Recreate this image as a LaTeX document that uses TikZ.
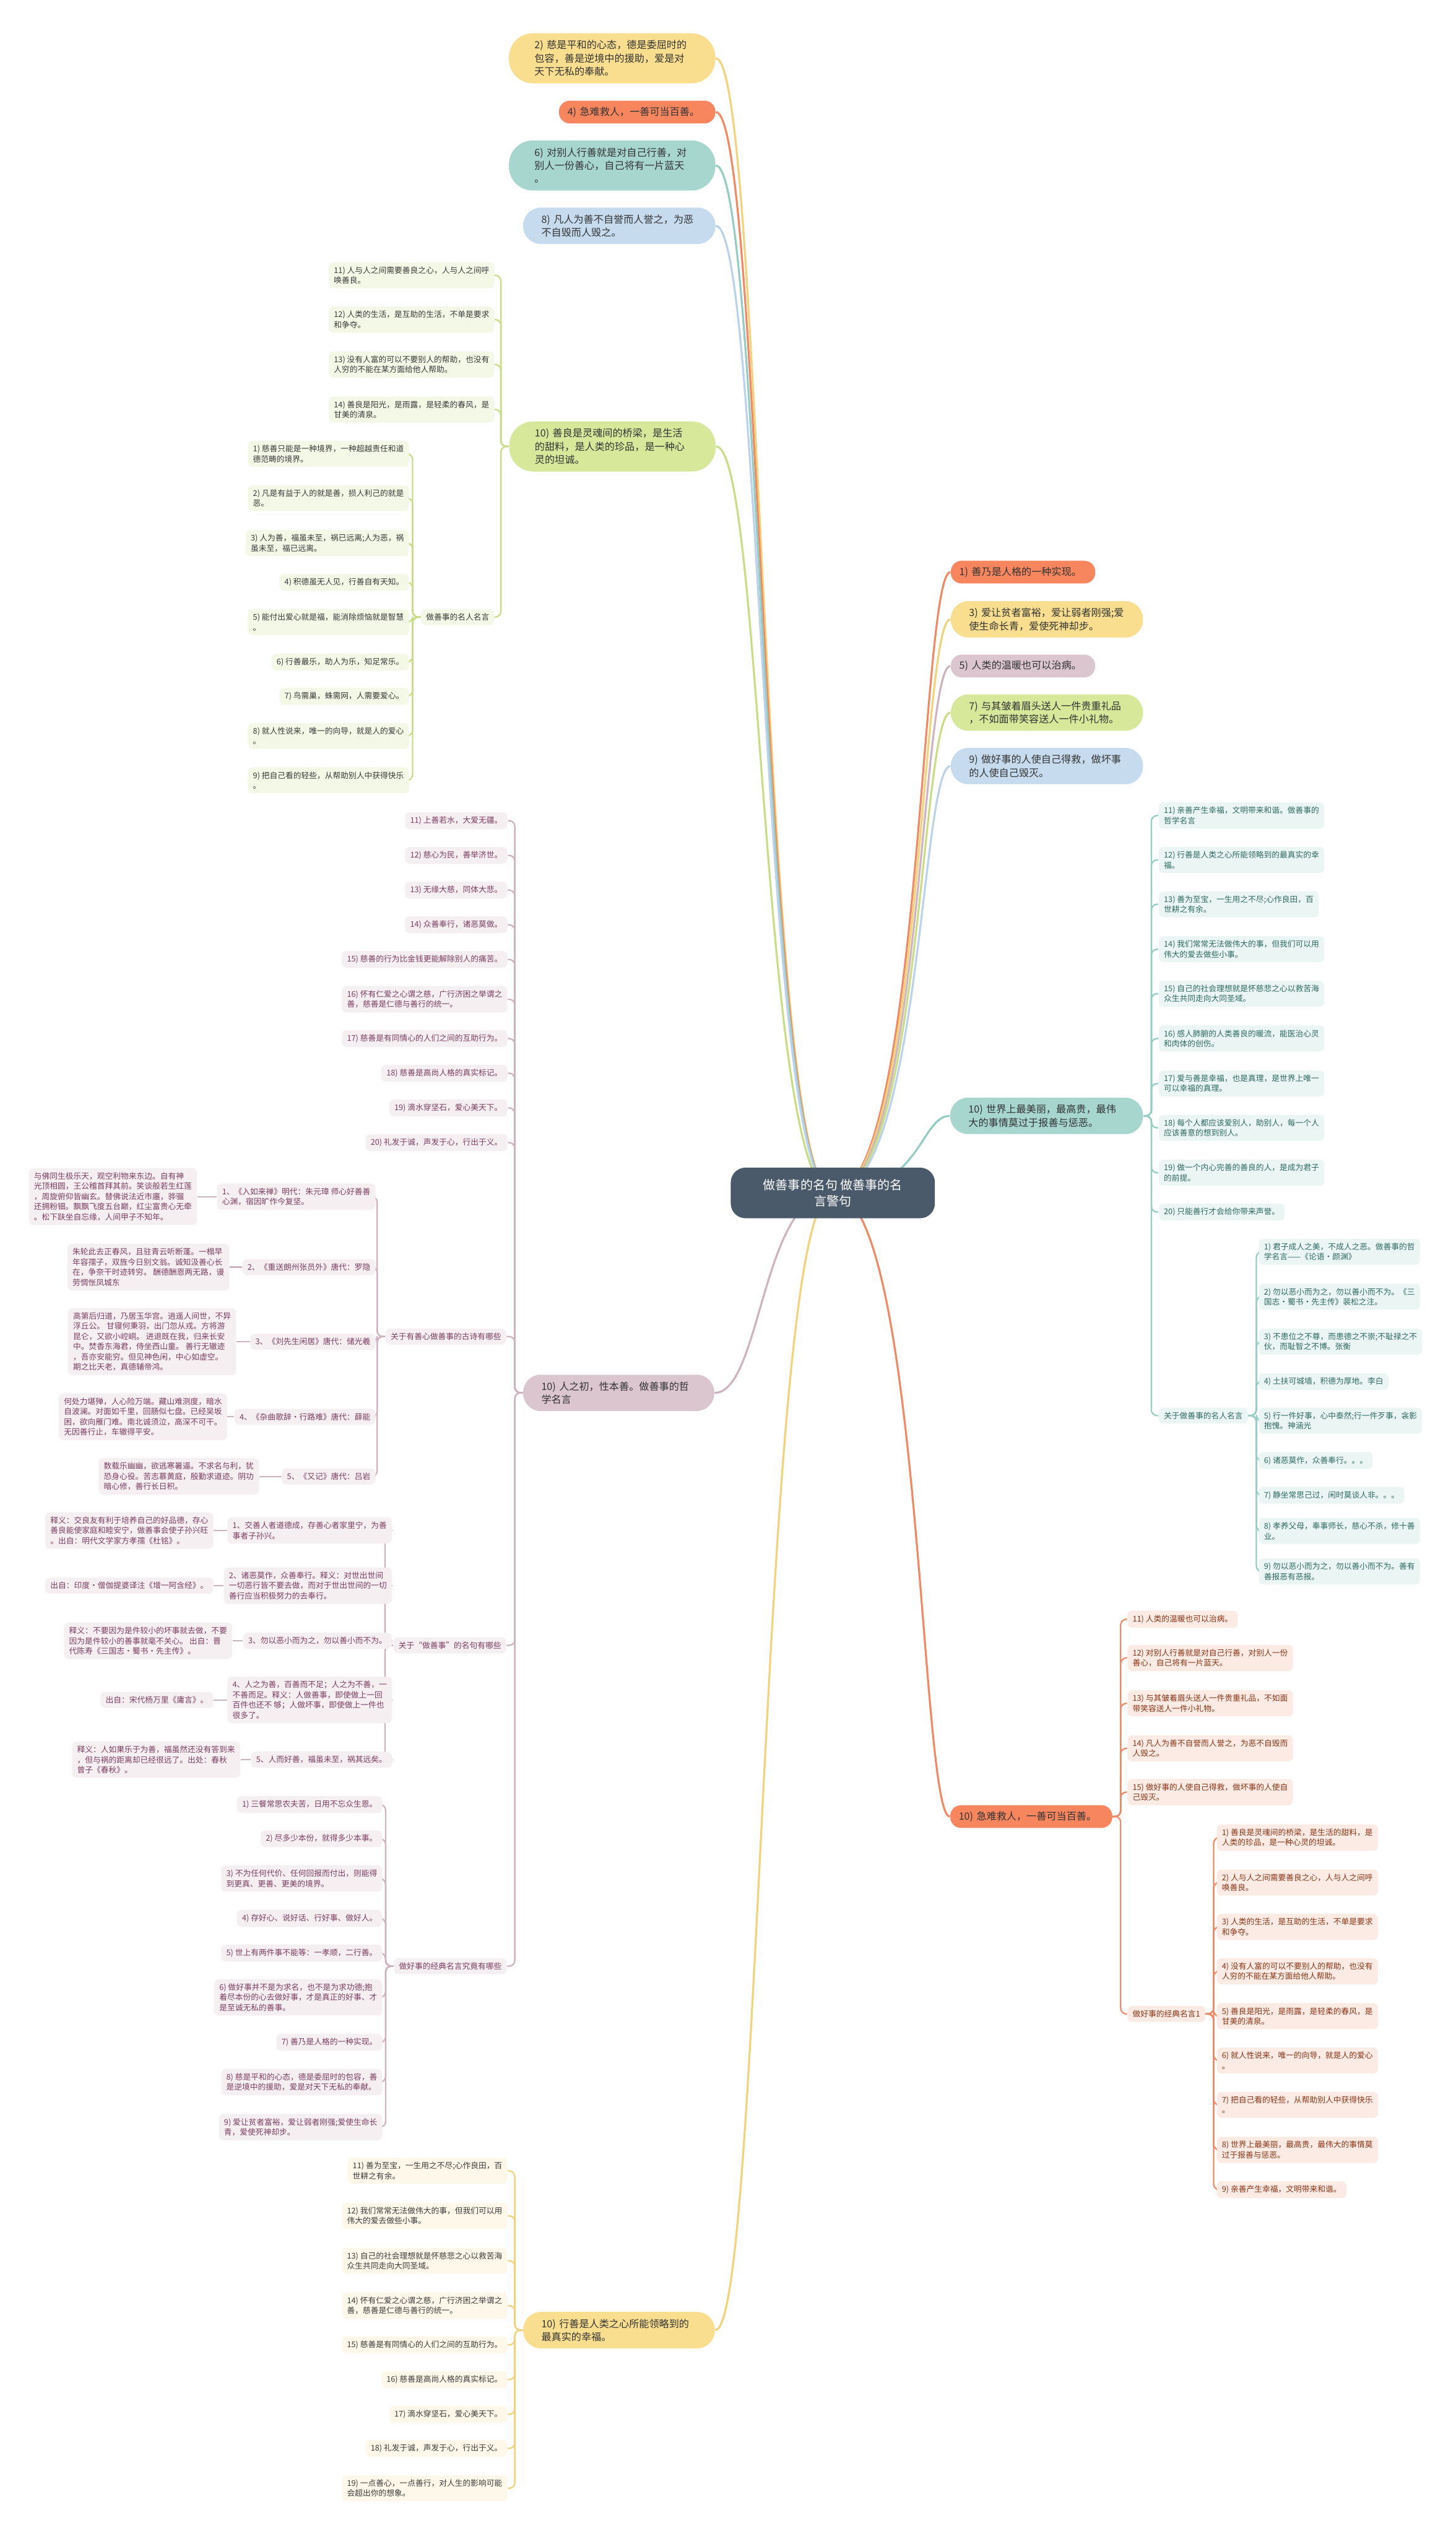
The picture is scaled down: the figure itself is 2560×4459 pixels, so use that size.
\documentclass[tikz,border=0pt]{standalone}
\usepackage{fontspec}
\setmainfont{Noto Sans CJK SC}
\usetikzlibrary{calc, backgrounds}

\definecolor{yel}{HTML}{F8DE8E}
\definecolor{yelline}{HTML}{F2D27C}
\definecolor{yelleaf}{HTML}{FDF8E9}
\definecolor{yeltext}{HTML}{3C3C3C}
\definecolor{cor}{HTML}{F7865F}
\definecolor{corline}{HTML}{EF8A66}
\definecolor{corleaf}{HTML}{FCEBE4}
\definecolor{cortext}{HTML}{8A3416}
\definecolor{tea}{HTML}{A6D6CE}
\definecolor{tealine}{HTML}{95CCC3}
\definecolor{tealeaf}{HTML}{EBF5F3}
\definecolor{teatext}{HTML}{2E6A62}
\definecolor{blu}{HTML}{C7DBEE}
\definecolor{bluline}{HTML}{BBD3EA}
\definecolor{grn}{HTML}{D7E89A}
\definecolor{grnline}{HTML}{C9DC86}
\definecolor{grnleaf}{HTML}{F4F8E6}
\definecolor{grntext}{HTML}{3A3A3A}
\definecolor{mau}{HTML}{DBC5CF}
\definecolor{mauline}{HTML}{CDB4C0}
\definecolor{mauleaf}{HTML}{F6EFF2}
\definecolor{mautext}{HTML}{7A3E60}
\definecolor{rootc}{HTML}{4A5A6A}
\definecolor{txtdark}{HTML}{333333}

\newcommand\mainsize{\fontsize{5}{6.6}\selectfont}
\newcommand\leafsize{\fontsize{3.95}{5.1}\selectfont}
\newcommand\rootsize{\fontsize{6.2}{8.2}\selectfont}

\tikzset{
  mainbox/.style={align=left, font=\mainsize, text=txtdark, inner ysep=0pt},
  mthree/.style={mainbox, text width=27.3mm, inner xsep=4.5mm, minimum height=8.8mm, rounded corners=4.2mm},
  mtwo/.style={mainbox, text width=27.4mm, inner xsep=3.2mm, minimum height=6.4mm, rounded corners=3.1mm},
  mone/.style={mainbox, inner xsep=1.5mm, minimum height=4mm, rounded corners=1.9mm},
  leaf/.style={align=left, font=\leafsize, inner xsep=0.9mm, inner ysep=0.75mm, rounded corners=0.8mm},
  gleaf/.style={leaf, anchor=east, fill=grnleaf, text=grntext},
  mleaf/.style={leaf, anchor=east, fill=mauleaf, text=mautext},
  yleaf/.style={leaf, anchor=east, fill=yelleaf, text=yeltext},
  tleaf/.style={leaf, anchor=west, fill=tealeaf, text=teatext},
  cleaf/.style={leaf, anchor=west, fill=corleaf, text=cortext},
  hookl/.style={rounded corners=1mm, to path={-- ++(-14,0) |- (\tikztotarget)}},
  hookr/.style={rounded corners=1mm, to path={-- ++(14,0) |- (\tikztotarget)}},
  twig/.style={line width=0.25mm},
  limb/.style={line width=0.35mm},
  lcurve/.style={out=180, in=0, out distance=12.5mm, in distance=8.2mm},
  rcurve/.style={out=0, in=180, out distance=15.5mm, in distance=5.2mm},
}

\begin{document}
\begin{tikzpicture}[x=0.1mm, y=-0.1mm]
    \useasboundingbox (0,0) rectangle (2560,4459);

    % centre
    \node[fill=rootc, text=white, font=\rootsize, align=center, minimum width=35.9mm, minimum height=8.9mm, rounded corners=2.6mm] (root) at (1464.5,2097.5) {做善事的名句 做善事的名\\言警句};

    % left main branches
    \node[mthree, fill=yel] (l2) at (1076.5,102.5) {2) 慈是平和的心态，德是委屈时的\\包容，善是逆境中的援助，爱是对\\天下无私的奉献。};
    \node[mone, fill=cor, text width=24.5mm] (l4) at (1120.5,197) {4)~急难救人，一善可当百善。};
    \node[mthree, fill=tea] (l6) at (1076.5,291) {6) 对别人行善就是对自己行善，对\\别人一份善心，自己将有一片蓝天\\。};
    \node[mtwo, fill=blu] (l8) at (1089,397) {8) 凡人为善不自誉而人誉之，为恶\\不自毁而人毁之。};
    \node[mthree, fill=grn] (lg) at (1077,785) {10) 善良是灵魂间的桥梁，是生活\\的甜料，是人类的珍品，是一种心\\灵的坦诚。};
    \node[mtwo, fill=mau, text width=27.2mm] (lm) at (1088,2449) {10) 人之初，性本善。做善事的哲\\学名言};
    \node[mtwo, fill=yel, text width=27.3mm] (ly) at (1088.5,4097) {10) 行善是人类之心所能领略到的\\最真实的幸福。};

    % right main branches
    \node[mone, fill=cor, text width=22.4mm] (r1) at (1799,1006) {1)~善乃是人格的一种实现。};
    \node[mtwo, fill=yel] (r3) at (1841,1089) {3) 爱让贫者富裕，爱让弱者刚强;爱\\使生命长青，爱使死神却步。};
    \node[mone, fill=mau, text width=22.4mm] (r5) at (1799,1171) {5)~人类的温暖也可以治病。};
    \node[mtwo, fill=grn] (r7) at (1841,1253) {7) 与其皱着眉头送人一件贵重礼品\\，不如面带笑容送人一件小礼物。};
    \node[mtwo, fill=blu] (r9) at (1841,1347) {9) 做好事的人使自己得救，做坏事\\的人使自己毁灭。};
    \node[mtwo, fill=tea, text width=27.5mm] (rt) at (1840.5,1962) {10) 世界上最美丽，最高贵，最伟\\大的事情莫过于报善与惩恶。};
    \node[mone, fill=cor, text width=25.5mm] (rc) at (1813.5,3194) {10)~急难救人，一善可当百善。};

    % green branch
    \node[gleaf] (lg11) at (870,484) {11) 人与人之间需要善良之心，人与人之间呼\\唤善良。};
    \node[gleaf] (lg12) at (870,562) {12) 人类的生活，是互助的生活，不单是要求\\和争夺。};
    \node[gleaf] (lg13) at (870,641) {13) 没有人富的可以不要别人的帮助，也没有\\人穷的不能在某方面给他人帮助。};
    \node[gleaf] (lg14) at (870,720) {14) 善良是阳光，是雨露，是轻柔的春风，是\\甘美的清泉。};
    \node[gleaf] (lgq) at (870,1085) {做善事的名人名言};
    \node[gleaf] (lgq1) at (720,798) {1) 慈善只能是一种境界，一种超越责任和道\\德范畴的境界。};
    \node[gleaf] (lgq2) at (720,876) {2) 凡是有益于人的就是善，损人利己的就是\\恶。};
    \node[gleaf] (lgq3) at (720,955) {3) 人为善，福虽未至，祸已远离;人为恶，祸\\虽未至，福已远离。};
    \node[gleaf] (lgq4) at (720,1024) {4) 积德虽无人见，行善自有天知。};
    \node[gleaf] (lgq5) at (720,1094) {5) 能付出爱心就是福，能消除烦恼就是智慧\\。};
    \node[gleaf] (lgq6) at (720,1164) {6) 行善最乐，助人为乐，知足常乐。};
    \node[gleaf] (lgq7) at (720,1224) {7) 鸟需巢，蛛需网，人需要爱心。};
    \node[gleaf] (lgq8) at (720,1294) {8) 就人性说来，唯一的向导，就是人的爱心\\。};
    \node[gleaf] (lgq9) at (720,1372) {9) 把自己看的轻些，从帮助别人中获得快乐\\。};

    % mauve branch
    \node[mleaf] (lm11) at (893,1443) {11) 上善若水，大爱无疆。};
    \node[mleaf] (lm12) at (893,1504) {12) 慈心为民，善举济世。};
    \node[mleaf] (lm13) at (893,1565) {13) 无缘大慈，同体大悲。};
    \node[mleaf] (lm14) at (893,1626) {14) 众善奉行，诸恶莫做。};
    \node[mleaf] (lm15) at (893,1687) {15) 慈善的行为比金钱更能解除别人的痛苦。};
    \node[mleaf] (lm16) at (893,1757) {16) 怀有仁爱之心谓之慈，广行济困之举谓之\\善，慈善是仁德与善行的统一。};
    \node[mleaf] (lm17) at (893,1826) {17) 慈善是有同情心的人们之间的互助行为。};
    \node[mleaf] (lm18) at (893,1887) {18) 慈善是高尚人格的真实标记。};
    \node[mleaf] (lm19) at (893,1948) {19) 滴水穿坚石，爱心美天下。};
    \node[mleaf] (lm20) at (893,2009) {20) 礼发于诚，声发于心，行出于义。};

    \node[mleaf] (lmp) at (891,2350) {关于有善心做善事的古诗有哪些};
    \node[mleaf] (lmp1) at (661,2104) {1、《入如来禅》明代：朱元璋 师心好善善\\心渊，宿因旷作今复坚。};
    \node[mleaf] (lmt1) at (347,2104) {与佛同生极乐天，观空利物来东边。自有神\\光顶相圆，王公稽首拜其前。笑谈般若生红莲\\，周旋俯仰皆幽玄。替佛说法近市廛，骅骝\\还拥粉钿。飘飘飞度五台巅，红尘富贵心无牵\\。松下趺坐自忘缘，人间甲子不知年。};
    \node[mleaf] (lmp2) at (661,2228) {2、《重送朗州张员外》唐代：罗隐};
    \node[mleaf] (lmt2) at (404,2228) {朱轮此去正春风，且驻青云听断蓬。一榻早\\年容孺子，双旌今日别文翁。诚知汲善心长\\在，争奈干时迹转穷。 酬德酬恩两无路，谩\\劳惆怅凤城东};
    \node[mleaf] (lmp3) at (661,2359) {3、《刘先生闲居》唐代：储光羲};
    \node[mleaf] (lmt3) at (416,2359) {高第后归道，乃居玉华宫。逍遥人间世，不异\\浮丘公。 甘寝何秉羽，出门忽从戎。方将游\\昆仑，又欲小崆峒。 进退既在我，归来长安\\中。焚香东海君，侍坐西山童。 善行无辙迹\\，吾亦安能穷。但见神色闲，中心如虚空。\\期之比天老，真德辅帝鸿。};
    \node[mleaf] (lmp4) at (661,2491) {4、《杂曲歌辞·行路难》唐代：薛能};
    \node[mleaf] (lmt4) at (400,2491) {何处力堪殚，人心险万端。藏山难测度，暗水\\自波澜。对面如千里，回肠似七盘。已经吴坂\\困，欲向雁门难。南北诚须泣，高深不可干。\\无因善行止，车辙得平安。};
    \node[mleaf] (lmp5) at (661,2596) {5、《又记》唐代：吕岩};
    \node[mleaf] (lmt5) at (456,2596) {数载乐幽幽，欲逃寒暑逼。不求名与利，犹\\恐身心役。苦志慕黄庭，殷勤求道迹。阴功\\暗心修，善行长日积。};

    \node[mleaf] (lms) at (891,2893) {关于“做善事”的名句有哪些};
    \node[mleaf] (lms1) at (690,2691) {1、交善人者道德成，存善心者家里宁，为善\\事者子孙兴。};
    \node[mleaf] (lmx1) at (376,2691) {释义：交良友有利于培养自己的好品德，存心\\善良能使家庭和睦安宁，做善事会使子孙兴旺\\。出自：明代文学家方孝孺《杜铭》。};
    \node[mleaf] (lms2) at (690,2788) {2、诸恶莫作，众善奉行。释义：对世出世间\\一切恶行皆不要去做，而对于世出世间的一切\\善行应当积极努力的去奉行。};
    \node[mleaf] (lmx2) at (376,2788) {出自：印度·僧伽提婆译注《增一阿含经》。};
    \node[mleaf] (lms3) at (690,2885) {3、勿以恶小而为之，勿以善小而不为。};
    \node[mleaf] (lmx3) at (409,2885) {释义：不要因为是件较小的坏事就去做，不要\\因为是件较小的善事就毫不关心。 出自：晋\\代陈寿《三国志·蜀书·先主传》。};
    \node[mleaf] (lms4) at (690,2989) {4、人之为善，百善而不足；人之为不善，一\\不善而足。释义：人做善事，即使做上一回\\百件也还不 够；人做坏事，即使做上一件也\\很多了。};
    \node[mleaf] (lmx4) at (376,2989) {出自：宋代杨万里《庸言》。};
    \node[mleaf] (lms5) at (690,3094) {5、人而好善，福虽未至，祸其远矣。};
    \node[mleaf] (lmx5) at (423,3094) {释义：人如果乐于为善，福虽然还没有答到来\\，但与祸的距离却已经很远了。出处：春秋\\曾子《春秋》。};

    \node[mleaf] (lmk) at (892,3457) {做好事的经典名言究竟有哪些};
    \node[mleaf] (lmk1) at (673,3173) {1) 三餐常思农夫苦，日用不忘众生恩。};
    \node[mleaf] (lmk2) at (673,3233) {2) 尽多少本份，就得多少本事。};
    \node[mleaf] (lmk3) at (673,3303) {3) 不为任何代价、任何回报而付出，则能得\\到更真、更善、更美的境界。};
    \node[mleaf] (lmk4) at (673,3373) {4) 存好心、说好话、行好事、做好人。};
    \node[mleaf] (lmk5) at (673,3434) {5) 世上有两件事不能等：一孝顺，二行善。};
    \node[mleaf] (lmk6) at (673,3512) {6) 做好事并不是为求名，也不是为求功德;抱\\着尽本份的心去做好事，才是真正的好事、才\\是至诚无私的善事。};
    \node[mleaf] (lmk7) at (673,3591) {7) 善乃是人格的一种实现。};
    \node[mleaf] (lmk8) at (673,3661) {8) 慈是平和的心态，德是委屈时的包容，善\\是逆境中的援助，爱是对天下无私的奉献。};
    \node[mleaf] (lmk9) at (673,3740) {9) 爱让贫者富裕，爱让弱者刚强;爱使生命长\\青，爱使死神却步。};

    % yellow branch
    \node[yleaf] (ly11) at (893,3817) {11) 善为至宝，一生用之不尽;心作良田，百\\世耕之有余。};
    \node[yleaf] (ly12) at (893,3896) {12) 我们常常无法做伟大的事，但我们可以用\\伟大的爱去做些小事。};
    \node[yleaf] (ly13) at (893,3975) {13) 自己的社会理想就是怀慈悲之心以救苦海\\众生共同走向大同圣域。};
    \node[yleaf] (ly14) at (893,4054) {14) 怀有仁爱之心谓之慈，广行济困之举谓之\\善，慈善是仁德与善行的统一。};
    \node[yleaf] (ly15) at (893,4123) {15) 慈善是有同情心的人们之间的互助行为。};
    \node[yleaf] (ly16) at (893,4184) {16) 慈善是高尚人格的真实标记。};
    \node[yleaf] (ly17) at (893,4245) {17) 滴水穿坚石，爱心美天下。};
    \node[yleaf] (ly18) at (893,4305) {18) 礼发于诚，声发于心，行出于义。};
    \node[yleaf] (ly19) at (893,4375) {19) 一点善心，一点善行，对人生的影响可能\\会超出你的想象。};

    % teal branch
    \node[tleaf] (rt11) at (2037,1434) {11) 亲善产生幸福，文明带来和谐。做善事的\\哲学名言};
    \node[tleaf] (rt12) at (2037,1512) {12) 行善是人类之心所能领略到的最真实的幸\\福。};
    \node[tleaf] (rt13) at (2037,1590) {13) 善为至宝，一生用之不尽;心作良田，百\\世耕之有余。};
    \node[tleaf] (rt14) at (2037,1669) {14) 我们常常无法做伟大的事，但我们可以用\\伟大的爱去做些小事。};
    \node[tleaf] (rt15) at (2037,1747) {15) 自己的社会理想就是怀慈悲之心以救苦海\\众生共同走向大同圣域。};
    \node[tleaf] (rt16) at (2037,1826) {16) 感人肺腑的人类善良的暖流，能医治心灵\\和肉体的创伤。};
    \node[tleaf] (rt17) at (2037,1905) {17) 爱与善是幸福，也是真理，是世界上唯一\\可以幸福的真理。};
    \node[tleaf] (rt18) at (2037,1983) {18) 每个人都应该爱别人，助别人，每一个人\\应该善意的想到别人。};
    \node[tleaf] (rt19) at (2037,2062) {19) 做一个内心完善的善良的人，是成为君子\\的前提。};
    \node[tleaf] (rt20) at (2037,2131) {20) 只能善行才会给你带来声誉。};
    \node[tleaf] (rtq) at (2037,2489) {关于做善事的名人名言};
    \node[tleaf] (rtq1) at (2213,2201) {1) 君子成人之美，不成人之恶。做善事的哲\\学名言——《论语·颜渊》};
    \node[tleaf] (rtq2) at (2213,2280) {2) 勿以恶小而为之，勿以善小而不为。《三\\国志·蜀书·先主传》裴松之注。};
    \node[tleaf] (rtq3) at (2213,2359) {3) 不患位之不尊，而患德之不崇;不耻禄之不\\伙，而耻智之不博。张衡};
    \node[tleaf] (rtq4) at (2213,2429) {4) 土扶可城墙，积德为厚地。李白};
    \node[tleaf] (rtq5) at (2213,2498) {5) 行一件好事，心中泰然;行一件歹事，衾影\\抱愧。神涵光};
    \node[tleaf] (rtq6) at (2213,2568) {6) 诸恶莫作，众善奉行。。。};
    \node[tleaf] (rtq7) at (2213,2629) {7) 静坐常思己过，闲时莫谈人非。。。};
    \node[tleaf] (rtq8) at (2213,2692) {8) 孝养父母，奉事师长，慈心不杀，修十善\\业。};
    \node[tleaf] (rtq9) at (2213,2763) {9) 勿以恶小而为之，勿以善小而不为。善有\\善报恶有恶报。};

    % coral branch
    \node[cleaf] (rc11) at (1982,2847) {11) 人类的温暖也可以治病。};
    \node[cleaf] (rc12) at (1982,2915) {12) 对别人行善就是对自己行善，对别人一份\\善心，自己将有一片蓝天。};
    \node[cleaf] (rc13) at (1982,2995) {13) 与其皱着眉头送人一件贵重礼品，不如面\\带笑容送人一件小礼物。};
    \node[cleaf] (rc14) at (1982,3074) {14) 凡人为善不自誉而人誉之，为恶不自毁而\\人毁之。};
    \node[cleaf] (rc15) at (1982,3151) {15) 做好事的人使自己得救，做坏事的人使自\\己毁灭。};
    \node[cleaf] (rck) at (1982,3541) {做好事的经典名言1};
    \node[cleaf] (rck1) at (2139,3231) {1) 善良是灵魂间的桥梁，是生活的甜料，是\\人类的珍品，是一种心灵的坦诚。};
    \node[cleaf] (rck2) at (2139,3310) {2) 人与人之间需要善良之心，人与人之间呼\\唤善良。};
    \node[cleaf] (rck3) at (2139,3388) {3) 人类的生活，是互助的生活，不单是要求\\和争夺。};
    \node[cleaf] (rck4) at (2139,3466) {4) 没有人富的可以不要别人的帮助，也没有\\人穷的不能在某方面给他人帮助。};
    \node[cleaf] (rck5) at (2139,3545) {5) 善良是阳光，是雨露，是轻柔的春风，是\\甘美的清泉。};
    \node[cleaf] (rck6) at (2139,3623) {6) 就人性说来，唯一的向导，就是人的爱心\\。};
    \node[cleaf] (rck7) at (2139,3701) {7) 把自己看的轻些，从帮助别人中获得快乐\\。};
    \node[cleaf] (rck8) at (2139,3780) {8) 世界上最美丽，最高贵，最伟大的事情莫\\过于报善与惩恶。};
    \node[cleaf] (rck9) at (2139,3850) {9) 亲善产生幸福，文明带来和谐。};

    \begin{scope}[on background layer]
    \fill[white] (0,0) rectangle (2560,4459);

    % centre to main branches
    \draw[limb]
        (root.center) edge[lcurve, yelline] (l2.east)
        (root.center) edge[lcurve, corline] (l4.east)
        (root.center) edge[lcurve, tealine] (l6.east)
        (root.center) edge[lcurve, bluline] (l8.east)
        (root.center) edge[lcurve, grnline] (lg.east)
        (root.center) edge[lcurve, mauline] (lm.east)
        (root.center) edge[lcurve, yelline] (ly.east)
        (root.center) edge[rcurve, corline] (r1.west)
        (root.center) edge[rcurve, yelline] (r3.west)
        (root.center) edge[rcurve, mauline] (r5.west)
        (root.center) edge[rcurve, grnline] (r7.west)
        (root.center) edge[rcurve, bluline] (r9.west)
        (root.center) edge[rcurve, tealine] (rt.west)
        (root.center) edge[rcurve, corline] (rc.west)
        ;

    \draw[twig, grnline]
        (lg.west) edge[hookl] (lg11.east) edge[hookl] (lg12.east)
                  edge[hookl] (lg13.east) edge[hookl] (lg14.east)
                  edge[hookl] (lgq.east)
        (lgq.west) edge[hookl] (lgq1.east) edge[hookl] (lgq2.east)
                   edge[hookl] (lgq3.east) edge[hookl] (lgq4.east)
                   edge[hookl] (lgq5.east) edge[hookl] (lgq6.east)
                   edge[hookl] (lgq7.east) edge[hookl] (lgq8.east)
                   edge[hookl] (lgq9.east)
        ;

    \draw[twig, mauline]
        (lm.west) edge[hookl] (lm11.east) edge[hookl] (lm12.east)
                  edge[hookl] (lm13.east) edge[hookl] (lm14.east)
                  edge[hookl] (lm15.east) edge[hookl] (lm16.east)
                  edge[hookl] (lm17.east) edge[hookl] (lm18.east)
                  edge[hookl] (lm19.east) edge[hookl] (lm20.east)
                  edge[hookl] (lmp.east) edge[hookl] (lms.east)
                  edge[hookl] (lmk.east)
        (lmp.west) edge[hookl] (lmp1.east) edge[hookl] (lmp2.east)
                   edge[hookl] (lmp3.east) edge[hookl] (lmp4.east)
                   edge[hookl] (lmp5.east)
        (lms.west) edge[hookl] (lms1.east) edge[hookl] (lms2.east)
                   edge[hookl] (lms3.east) edge[hookl] (lms4.east)
                   edge[hookl] (lms5.east)
        (lmk.west) edge[hookl] (lmk1.east) edge[hookl] (lmk2.east)
                   edge[hookl] (lmk3.east) edge[hookl] (lmk4.east)
                   edge[hookl] (lmk5.east) edge[hookl] (lmk6.east)
                   edge[hookl] (lmk7.east) edge[hookl] (lmk8.east)
                   edge[hookl] (lmk9.east)
        (lmp1.west) -- (lmt1.east)  (lmp2.west) -- (lmt2.east)
        (lmp3.west) -- (lmt3.east)  (lmp4.west) -- (lmt4.east)
        (lmp5.west) -- (lmt5.east)
        (lms1.west) -- (lmx1.east)  (lms2.west) -- (lmx2.east)
        (lms3.west) -- (lmx3.east)  (lms4.west) -- (lmx4.east)
        (lms5.west) -- (lmx5.east)
        ;

    \draw[twig, yelline]
        (ly.west) edge[hookl] (ly11.east) edge[hookl] (ly12.east)
                  edge[hookl] (ly13.east) edge[hookl] (ly14.east)
                  edge[hookl] (ly15.east) edge[hookl] (ly16.east)
                  edge[hookl] (ly17.east) edge[hookl] (ly18.east)
                  edge[hookl] (ly19.east)
        ;

    \draw[twig, tealine]
        (rt.east) edge[hookr] (rt11.west) edge[hookr] (rt12.west)
                  edge[hookr] (rt13.west) edge[hookr] (rt14.west)
                  edge[hookr] (rt15.west) edge[hookr] (rt16.west)
                  edge[hookr] (rt17.west) edge[hookr] (rt18.west)
                  edge[hookr] (rt19.west) edge[hookr] (rt20.west)
                  edge[hookr] (rtq.west)
        (rtq.east) edge[hookr] (rtq1.west) edge[hookr] (rtq2.west)
                   edge[hookr] (rtq3.west) edge[hookr] (rtq4.west)
                   edge[hookr] (rtq5.west) edge[hookr] (rtq6.west)
                   edge[hookr] (rtq7.west) edge[hookr] (rtq8.west)
                   edge[hookr] (rtq9.west)
        ;

    \draw[twig, corline]
        (rc.east) edge[hookr] (rc11.west) edge[hookr] (rc12.west)
                  edge[hookr] (rc13.west) edge[hookr] (rc14.west)
                  edge[hookr] (rc15.west) edge[hookr] (rck.west)
        (rck.east) edge[hookr] (rck1.west) edge[hookr] (rck2.west)
                   edge[hookr] (rck3.west) edge[hookr] (rck4.west)
                   edge[hookr] (rck5.west) edge[hookr] (rck6.west)
                   edge[hookr] (rck7.west) edge[hookr] (rck8.west)
                   edge[hookr] (rck9.west)
        ;
    \end{scope}
\end{tikzpicture}
\end{document}
